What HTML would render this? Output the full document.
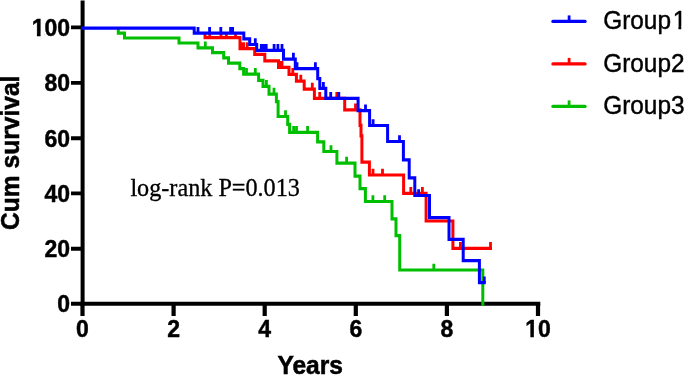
<!DOCTYPE html>
<html><head><meta charset="utf-8"><title>Kaplan-Meier</title>
<style>
html,body{margin:0;padding:0;background:#fff;}
body{width:685px;height:375px;overflow:hidden;}
svg{display:block;}
.tk{font-family:"Liberation Sans",Arial,sans-serif;font-weight:bold;font-size:23px;fill:#000;stroke:#000;stroke-width:0.45px;}
.ti{font-family:"Liberation Sans",Arial,sans-serif;font-weight:bold;font-size:24.6px;fill:#000;stroke:#000;stroke-width:0.5px;}
.lg{font-family:"Liberation Sans",Arial,sans-serif;font-size:24.4px;fill:#000;stroke:#000;stroke-width:0.4px;}
.an{font-family:"Liberation Serif","Times New Roman",serif;font-size:24.2px;fill:#000;stroke:#000;stroke-width:0.3px;}
</style></head>
<body>
<svg width="685" height="375" viewBox="0 0 685 375">
<rect width="685" height="375" fill="#fff" stroke="none"/>
<path d="M82.6 0.5V305.7" stroke="#000" stroke-width="4" fill="none"/>
<path d="M80.6 303.8H540.3" stroke="#000" stroke-width="3.9" fill="none"/>
<path d="M71 303.8H82M71 248.7H82M71 193.4H82M71 138.2H82M71 82.9H82M71 27.4H82" stroke="#000" stroke-width="3.9" fill="none"/>
<path d="M82.5 304V316M173.6 304V316M264.7 304V316M355.8 304V316M446.9 304V316M538.0 304V316" stroke="#000" stroke-width="4.2" fill="none"/>
<g transform="scale(1 1.07)"><path d="M118.3 27.94V30.93H124.5 V35.51H179.0 V40.19H198.0 V44.67H212.5 V49.16H223.7 V54.02H228.5 V59.07H239.8 V64.11H243.6 V69.35H258.6 V75.14H263.0 V80.65H269.0 V87.94H276.4 V94.95H278.1 V108.88H287.7 V116.17H289.6 V123.74H317.6 V132.62H323.8 V141.59H336.9 V152.43H355.0 V164.58H360.0 V176.26H365.4 V188.32H392.0 V204.49H396.0 V220.28H399.7 V252.34H482.8 V284.21" fill="none" stroke="#00bf00" stroke-width="3.0" stroke-linejoin="miter" stroke-linecap="square"/>
<path d="M205.3 44.67V38.79M246.5 69.35V63.46M255.3 69.35V63.46M266.4 80.65V74.77M274.0 87.94V82.06M285.5 108.88V102.99M293.6 123.74V117.85M296.5 123.74V117.85M307.6 123.74V117.85M331.0 141.59V135.70M346.6 152.43V146.54M372.9 188.32V182.43M384.7 188.32V182.43M433.8 252.34V246.45" fill="none" stroke="#00bf00" stroke-width="2.8"/>
<path d="M205.0 31.68V35.14H240.0 V45.42H254.7 V50.84H264.8 V56.82H278.5 V62.90H289.0 V69.44H296.4 V75.79H304.2 V83.27H314.4 V91.87H344.7 V102.71H360.0 V117.10H361.0 V126.92H361.9 V151.50H369.4 V163.55H403.6 V180.65H426.1 V206.54H452.9 V232.15H490.5" fill="none" stroke="#ff0000" stroke-width="3.0" stroke-linejoin="miter" stroke-linecap="square"/>
<path d="M209.7 35.14V31.03M221.0 35.14V31.03M226.3 35.14V31.03M235.5 35.14V31.03M280.5 62.90V57.01M282.0 62.90V57.01M292.8 69.44V63.55M300.8 75.79V69.91M312.3 83.27V77.38M319.7 91.87V85.98M336.8 91.87V85.98M355.5 102.71V96.82M373.0 163.55V157.66M382.5 163.55V157.66M410.8 180.65V174.77M422.4 180.65V174.77M460.4 232.15V226.26M490.5 232.15V226.26" fill="none" stroke="#ff0000" stroke-width="2.8"/>
<path d="M242.9 45.42V39.53" fill="none" stroke="#ff0000" stroke-width="4.6"/>
<path d="M247.3 45.42V39.53" fill="none" stroke="#ff0000" stroke-width="2.6"/>
<path d="M82.5 26.36H194.2 V31.03H243.8 V36.36H249.7 V41.59H256.7 V47.10H283.5 V55.23H295.3 V64.11H317.7 V73.55H319.8 V82.62H325.8 V91.87H358.1 V103.46H369.6 V117.29H387.6 V132.24H403.4 V149.44H409.2 V166.17H414.8 V182.71H429.5 V203.36H449.0 V223.64H463.2 V243.64H479.4 V264.21H484.3" fill="none" stroke="#0000ff" stroke-width="3.0" stroke-linejoin="miter" stroke-linecap="square"/>
<path d="M198.0 31.03V25.14M209.6 31.03V25.14M220.8 31.03V25.14M230.6 31.03V25.14M232.6 31.03V25.14M255.3 41.59V35.70M261.3 47.10V41.21M263.7 47.10V41.21M266.2 47.10V41.21M274.1 47.10V41.21M277.9 47.10V41.21M282.0 47.10V41.21M293.4 55.23V49.35M297.0 64.11V58.22M315.4 64.11V58.22M323.4 82.62V76.73M330.7 91.87V85.98M338.8 91.87V85.98M365.5 103.46V97.57M373.1 117.29V111.40M399.5 132.24V126.36M418.6 182.71V176.82M484.3 264.21V258.32" fill="none" stroke="#0000ff" stroke-width="2.8"/>
</g>
<g class="tk"><text x="70.0" y="312.3" text-anchor="end">0</text><text x="70.0" y="257.2" text-anchor="end">20</text><text x="70.0" y="201.9" text-anchor="end">40</text><text x="70.0" y="146.7" text-anchor="end">60</text><text x="70.0" y="91.4" text-anchor="end">80</text><text x="70.0" y="35.9" text-anchor="end">100</text><text x="82.5" y="337.3" text-anchor="middle">0</text><text x="173.6" y="337.3" text-anchor="middle">2</text><text x="264.7" y="337.3" text-anchor="middle">4</text><text x="355.8" y="337.3" text-anchor="middle">6</text><text x="446.9" y="337.3" text-anchor="middle">8</text><text x="538.0" y="337.3" text-anchor="middle">10</text></g>
<rect x="32.00" y="33" width="4.90" height="4" fill="#fff" stroke="none"/><rect x="40.60" y="33" width="3.70" height="4" fill="#fff" stroke="none"/><rect x="526.00" y="334" width="4.35" height="4" fill="#fff" stroke="none"/><rect x="533.87" y="334" width="4.13" height="4" fill="#fff" stroke="none"/>
<text class="ti" transform="translate(310.2 373.9) scale(1 1.06)" text-anchor="middle">Years</text>
<text class="ti" transform="translate(18.8 152.8) rotate(-90) scale(1 1.06)" text-anchor="middle">Cum survival</text>
<text class="an" transform="translate(130.4 196.4) scale(1 1.06)">log-rank P=0.013</text>
<g class="lg"><path d="M553 21.4H585" stroke="#0000ff" stroke-width="3.4" stroke-linecap="round" fill="none"/><path d="M569.1 21.4V15.4" stroke="#0000ff" stroke-width="2.8" fill="none"/><text transform="translate(603.2 29.00) scale(1 1.07)">Group<tspan dx="1.7">1</tspan></text><path d="M553 63.9H585" stroke="#ff0000" stroke-width="3.4" stroke-linecap="round" fill="none"/><path d="M569.1 63.9V57.9" stroke="#ff0000" stroke-width="2.8" fill="none"/><text transform="translate(603.2 71.50) scale(1 1.07)">Group2</text><path d="M553 106.4H585" stroke="#00bf00" stroke-width="3.4" stroke-linecap="round" fill="none"/><path d="M569.1 106.4V100.4" stroke="#00bf00" stroke-width="2.8" fill="none"/><text transform="translate(603.2 114.00) scale(1 1.07)">Group3</text><rect x="672.5" y="26" width="5.9" height="4" fill="#fff" stroke="none"/><rect x="681.28" y="26" width="3.72" height="4" fill="#fff" stroke="none"/></g>
</svg>
</body></html>
